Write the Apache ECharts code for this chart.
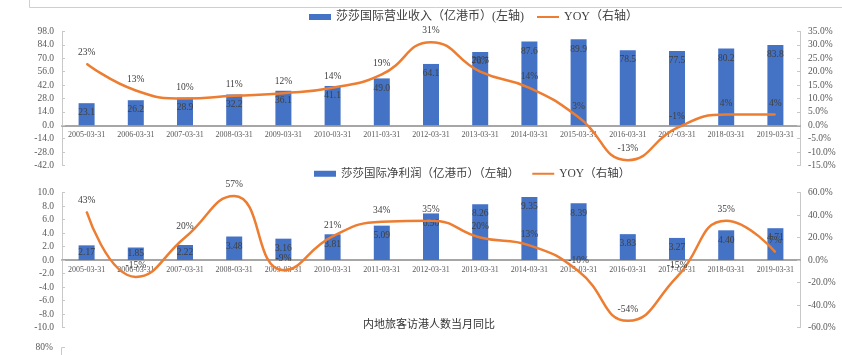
<!DOCTYPE html>
<html><head><meta charset="utf-8">
<script src="https://cdn.jsdelivr.net/npm/echarts@6/dist/echarts.min.js"></script>
<style>html,body{margin:0;padding:0;background:#fff}#c{width:842px;height:355px}</style>
</head><body><div id="c"></div>
<script>
const categories = ['2005-03-31','2006-03-31','2007-03-31','2008-03-31','2009-03-31','2010-03-31','2011-03-31','2012-03-31','2013-03-31','2014-03-31','2015-03-31','2016-03-31','2017-03-31','2018-03-31','2019-03-31'];
const revenue = [23.1,26.2,28.9,32.2,36.1,41.1,49.0,64.1,76.7,87.6,89.9,78.5,77.5,80.2,83.8];
const revenueYoy = [23,13,10,11,12,14,19,31,20,14,3,-13,-1,4,4];
const profit = [2.17,1.85,2.22,3.48,3.16,3.81,5.09,6.90,8.26,9.35,8.39,3.83,3.27,4.40,4.71];
const profitYoy = [43,-15,20,57,-9,21,34,35,20,13,-10,-54,-15,35,7];
const revenueName = '莎莎国际营业收入（亿港币）(左轴)';
const profitName = '莎莎国际净利润（亿港币）（左轴）';
const yoyName = 'YOY（右轴）';
const footText = '内地旅客访港人数当月同比';

const SERIF = "'Liberation Serif','Noto Sans CJK SC',serif";
const BLUE = '#4472C4', ORANGE = '#ED7D31', LBL = '#404040', AX = '#595959';

const G1 = {top: 31.5, height: 134, min: -42, max: 98};
const G2 = {top: 192.5, height: 135, min: -10, max: 10};

function barData(vals, threshold) {
  return vals.map(v => v < threshold ? {value: v, label: {position: 'inside'}} : v);
}
function xAxis(grid, g) {
  const zeroFromBottom = (0 - g.min) / (g.max - g.min) * g.height;
  return {type: 'category', gridIndex: grid, data: categories,
    offset: -zeroFromBottom,
    axisLine: {onZero: false, lineStyle: {color: '#a6a6a6', width: 2}},
    axisTick: {show: false},
    axisLabel: {interval: 0, fontFamily: SERIF, fontSize: 8, color: AX, margin: 6}};
}
function yAxis(grid, pos, min, max, interval, fmt) {
  return {type: 'value', gridIndex: grid, position: pos, min, max, interval,
    splitLine: {show: false},
    axisLine: {show: true, onZero: false, lineStyle: {color: '#c8c8c8', width: 1}},
    axisTick: {show: true, inside: true, length: 3, lineStyle: {color: '#c8c8c8'}},
    axisLabel: {fontFamily: SERIF, fontSize: 9.5, color: AX, margin: 8, formatter: fmt}};
}
const fmtL = v => v.toFixed(1);
const fmtR = v => v.toFixed(1) + '%';

const chart = echarts.init(document.getElementById('c'), null, {renderer: 'canvas'});
const barLabel = d => ({show: true, position: 'insideTop', distance: 5, fontFamily: SERIF, fontSize: 9.5, color: LBL,
  formatter: p => Number(p.value).toFixed(d)});
const lineLabel = {show: true, position: 'top', distance: 6, fontFamily: SERIF, fontSize: 9.5, color: LBL, formatter: p => p.value + '%'};
const legendText = {fontFamily: SERIF, fontSize: 12, color: '#404040'};

chart.setOption({
  animation: false,
  grid: [
    {left: 62, right: 42, top: G1.top, height: G1.height},
    {left: 62, right: 42, top: G2.top, height: G2.height}
  ],
  legend: [
    {left: 304, top: 6, itemWidth: 22, itemHeight: 6, itemGap: 12, textStyle: legendText,
      data: [{name: revenueName, icon: 'rect'}, {name: yoyName, itemStyle: {opacity: 0}}]},
    {left: 309, top: 163, itemWidth: 22, itemHeight: 6, itemGap: 12, textStyle: Object.assign({}, legendText, {fontSize: 11.5}),
      data: [{name: profitName, icon: 'rect'}, {name: yoyName, itemStyle: {opacity: 0}}]}
  ],
  xAxis: [xAxis(0, G1), xAxis(1, G2)],
  yAxis: [
    yAxis(0, 'left', G1.min, G1.max, 14, fmtL),
    yAxis(0, 'right', -15, 35, 5, fmtR),
    yAxis(1, 'left', G2.min, G2.max, 2, fmtL),
    yAxis(1, 'right', -60, 60, 20, fmtR)
  ],
  series: [
    {name: revenueName, type: 'bar', xAxisIndex: 0, yAxisIndex: 0, data: barData(revenue, 0),
      barWidth: 16, itemStyle: {color: BLUE}, label: barLabel(1)},
    {name: yoyName, type: 'line', xAxisIndex: 0, yAxisIndex: 1, data: revenueYoy, smooth: 0.5,
      symbol: 'circle', symbolSize: 1, itemStyle: {color: ORANGE},
      lineStyle: {color: ORANGE, width: 2.5}, label: lineLabel, z: 3},
    {name: profitName, type: 'bar', xAxisIndex: 1, yAxisIndex: 2, data: barData(profit, 3),
      barWidth: 16, itemStyle: {color: BLUE}, label: barLabel(2)},
    {name: yoyName, type: 'line', xAxisIndex: 1, yAxisIndex: 3, data: profitYoy, smooth: 0.5,
      symbol: 'circle', symbolSize: 1, itemStyle: {color: ORANGE},
      lineStyle: {color: ORANGE, width: 2.5}, label: lineLabel, z: 3}
  ],
  graphic: [
    {type: 'polyline', shape: {points: [[29.5, 0], [29.5, 7.5], [842, 7.5]]}, style: {stroke: '#cfcfcf', fill: null, lineWidth: 1}},
    {type: 'text', x: 429, y: 324, style: {text: footText, fontFamily: "'Noto Sans CJK SC',serif", fontSize: 11, fill: '#333', align: 'center', verticalAlign: 'middle'}},
    {type: 'text', x: 53, y: 347, style: {text: '80%', fontFamily: SERIF, fontSize: 9.5, fill: AX, align: 'right', verticalAlign: 'middle'}},
    {type: 'polyline', shape: {points: [[65, 347.5], [61.5, 347.5], [61.5, 355]]}, style: {stroke: '#c8c8c8', fill: null, lineWidth: 1}}
  ]
});
</script></body></html>
